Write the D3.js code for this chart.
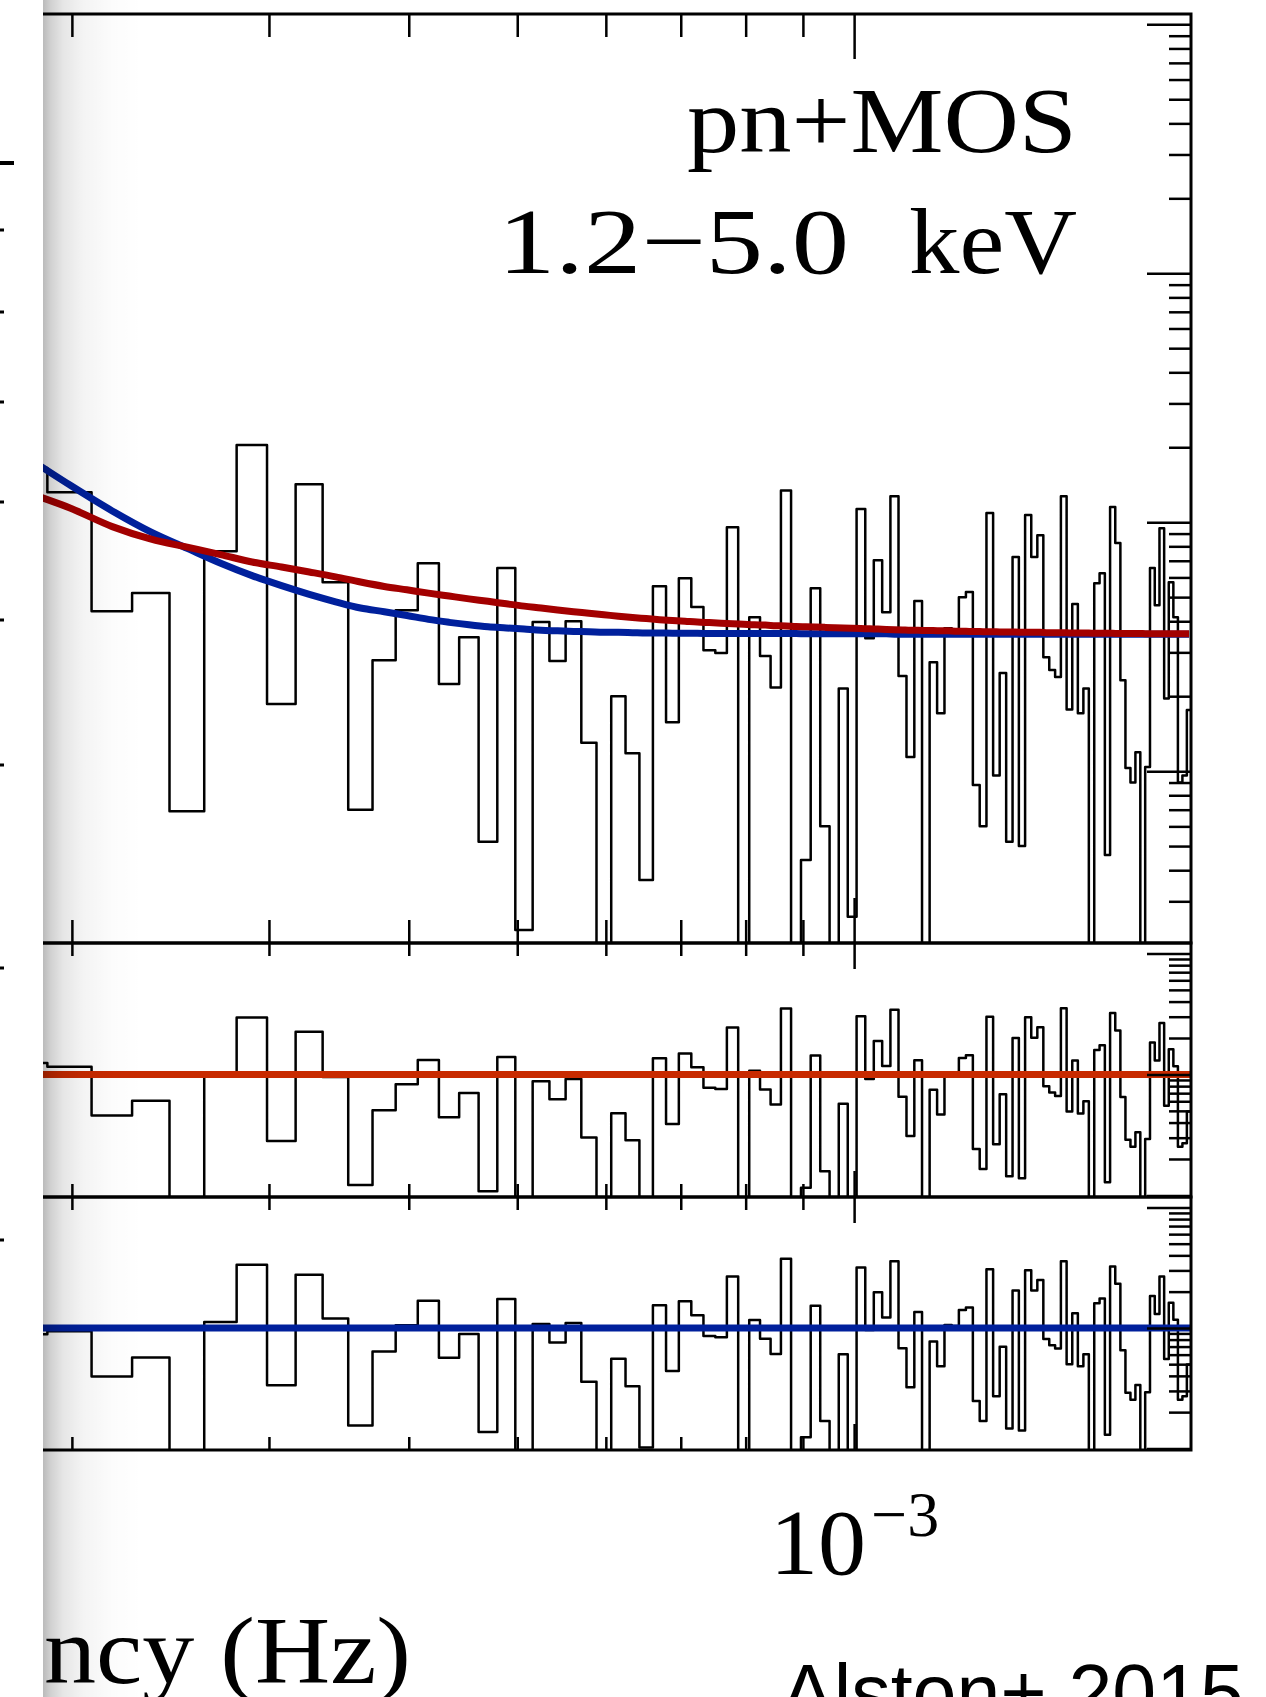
<!DOCTYPE html>
<html>
<head>
<meta charset="utf-8">
<script src="https://cdn.jsdelivr.net/npm/d3@7"></script>
<style>
  body { margin: 0; background: #fff; }
  svg { display: block; }
</style>
</head>
<body>
<div id="chart"></div>
<script>
// periodogram bins: bin n is centred on n*df, first array entry is n = 10
var df = 1.811e-5;
var firstBin = 10;

// data power per bin (values below ~0.2 fall under the plotted range)
var power = [16.5, 13.2, 4.39, 5.19, 0.69, 7.65, 20.4, 1.86, 14.2, 5.74,
  0.70, 2.79, 4.43, 6.84, 2.24, 3.45, 0.52, 6.54, 0.23, 3.97,
  2.77, 4.00, 1.30, 0.05, 2.00, 1.18, 0.365, 5.53, 1.57, 5.96,
  4.56, 3.06, 2.98, 9.55, 0.05, 4.15, 2.90, 2.17, 13.4, 0.05,
  0.44, 5.43, 0.60, 0.05, 2.15, 0.26, 11.3, 3.42, 7.03, 4.35,
  12.7, 2.41, 1.14, 4.82, 0.05, 2.74, 1.71, 3.75, 3.68, 5.00,
  5.24, 0.88, 0.60, 10.9, 0.96, 2.48, 0.52, 7.24, 0.50, 10.7,
  7.24, 8.87, 2.87, 2.55, 2.39, 12.7, 1.77, 4.69, 1.71, 2.15,
  0.05, 5.69, 6.24, 0.46, 11.5, 8.24, 2.32, 1.03, 0.90, 1.19,
  0.05, 1.04, 6.54, 4.64, 9.46, 1.96, 5.74, 4.15, 0.90, 0.96,
  1.76];

// power law + constant model (red), per bin
var modelRed = [13.3, 11.4, 9.60, 8.55, 7.94, 7.41, 6.92, 6.61, 6.31, 6.03,
  5.75, 5.52, 5.35, 5.19, 5.05, 4.92, 4.81, 4.70, 4.60, 4.52,
  4.44, 4.37, 4.31, 4.25, 4.19, 4.14, 4.10, 4.06, 4.03, 4.00,
  3.97, 3.95, 3.93, 3.91, 3.89, 3.87, 3.86, 3.84, 3.83, 3.81,
  3.80, 3.79, 3.78, 3.77, 3.76, 3.75, 3.74, 3.73, 3.72, 3.71,
  3.70, 3.69, 3.68, 3.68, 3.67, 3.67, 3.66, 3.66, 3.65, 3.65,
  3.64, 3.64, 3.63, 3.63, 3.63, 3.62, 3.62, 3.62, 3.61, 3.61,
  3.61, 3.61, 3.60, 3.60, 3.60, 3.60, 3.59, 3.59, 3.59, 3.59,
  3.58, 3.58, 3.58, 3.58, 3.58, 3.57, 3.57, 3.57, 3.57, 3.57,
  3.57, 3.56, 3.56, 3.56, 3.56, 3.56, 3.56, 3.56, 3.56, 3.56,
  3.56];

// bending model (blue), per bin
var modelBlue = [18.6, 14.1, 11.1, 9.12, 7.85, 6.84, 6.10, 5.56, 5.13, 4.79,
  4.52, 4.37, 4.22, 4.07, 3.96, 3.87, 3.80, 3.76, 3.72, 3.68,
  3.66, 3.64, 3.63, 3.61, 3.61, 3.60, 3.59, 3.59, 3.58, 3.58,
  3.58, 3.57, 3.57, 3.57, 3.57, 3.57, 3.57, 3.57, 3.57, 3.57,
  3.56, 3.56, 3.56, 3.56, 3.56, 3.56, 3.56, 3.56, 3.56, 3.56,
  3.55, 3.55, 3.55, 3.55, 3.55, 3.55, 3.55, 3.55, 3.55, 3.55,
  3.55, 3.55, 3.55, 3.55, 3.55, 3.55, 3.55, 3.55, 3.55, 3.55,
  3.55, 3.55, 3.55, 3.55, 3.55, 3.55, 3.55, 3.55, 3.55, 3.55,
  3.55, 3.55, 3.55, 3.55, 3.55, 3.55, 3.55, 3.55, 3.55, 3.55,
  3.55, 3.55, 3.55, 3.55, 3.55, 3.55, 3.55, 3.55, 3.55, 3.55,
  3.55];

var xLabelTicks = [1e-3];
var bandLabel = ["pn+MOS", "1.2\u22125.0", "keV"];
var xTitle = "Frequency (Hz)";
var credit = "Alston+ 2015";
// tick marks of the neighbouring (cropped) panel along the left edge
var edgeTicks = [163, 230, 312, 402, 502, 620, 765, 968, 1240];

var width = 1266, height = 1697;
var plotLeft = -265, plotRight = 1191;

var svg = d3.select("#chart").append("svg")
    .attr("width", width)
    .attr("height", height);

svg.append("rect").attr("width", width).attr("height", height).attr("fill", "#fff");

var x = d3.scaleLog().domain([1e-4, 2e-3]).range([plotLeft, plotRight]);

var bins = power.map(function(p, i) {
  var n = firstBin + i;
  return {lo: (n - 0.5) * df, hi: (n + 0.5) * df, mid: n * df,
          p: p, red: modelRed[i], blue: modelBlue[i]};
});

function isDecade(v) {
  var l = Math.log10(v);
  return Math.abs(l - Math.round(l)) < 1e-9;
}

var panels = [
  {top: 14, bottom: 943, domain: [0.204, 1100], xt: [23, 45],
   hist: function(b) { return b.p; },
   lines: [{v: function(b) { return b.blue; }, c: "#00209c"},
           {v: function(b) { return b.red; }, c: "#a30000"}]},
  {top: 943, bottom: 1197, domain: [0.097, 12.2], xt: [13, 26],
   hist: function(b) { return b.p / b.red; },
   flat: "#c82a00"},
  {top: 1197, bottom: 1450, domain: [0.097, 12.2], xt: [13, 26],
   hist: function(b) { return b.p / b.blue; },
   flat: "#00209c"}
];

var defs = svg.append("defs");

panels.forEach(function(pn, k) {
  var y = d3.scaleLog().domain(pn.domain).range([pn.bottom, pn.top]);

  defs.append("clipPath").attr("id", "clip" + k)
    .append("rect")
      .attr("x", plotLeft).attr("y", pn.top)
      .attr("width", plotRight - plotLeft).attr("height", pn.bottom - pn.top);

  var g = svg.append("g");
  var inner = g.append("g").attr("clip-path", "url(#clip" + k + ")");

  // histogram as steps
  var pts = [];
  bins.forEach(function(b) {
    pts.push([b.lo, pn.hist(b)]);
    pts.push([b.hi, pn.hist(b)]);
  });
  inner.append("path")
    .datum(pts)
    .attr("fill", "none")
    .attr("stroke", "#000")
    .attr("stroke-width", 2.5)
    .attr("stroke-linejoin", "round")
    .attr("d", d3.line()
      .x(function(d) { return x(d[0]); })
      .y(function(d) { return y(Math.max(d[1], 1e-3)); }));

  // model curves
  if (pn.lines) {
    pn.lines.forEach(function(ln) {
      inner.append("path")
        .datum(bins)
        .attr("fill", "none")
        .attr("stroke", ln.c)
        .attr("stroke-width", 7)
        .attr("d", d3.line()
          .curve(d3.curveMonotoneX)
          .x(function(d) { return x(d.mid); })
          .y(function(d) { return y(ln.v(d)); }));
    });
  }
  if (pn.flat) {
    inner.append("path")
      .datum(x.domain())
      .attr("fill", "none")
      .attr("stroke", pn.flat)
      .attr("stroke-width", 7)
      .attr("d", d3.line()
        .x(function(d) { return x(d); })
        .y(function() { return y(1); }));
  }

  // x ticks (inward on top and bottom edges)
  var xt = x.ticks().filter(function(t) { return t > x.domain()[0] && t < x.domain()[1]; });
  var xMinor = xt.filter(function(t) { return !isDecade(t); });
  var xMajor = xt.filter(isDecade);
  [[xMinor, pn.xt[0]], [xMajor, pn.xt[1]]].forEach(function(s) {
    g.append("g").attr("class", "tk")
      .attr("transform", "translate(0," + pn.top + ")")
      .call(d3.axisTop(x).tickValues(s[0]).tickSize(-s[1]).tickFormat(""));
    g.append("g").attr("class", "tk")
      .attr("transform", "translate(0," + pn.bottom + ")")
      .call(d3.axisBottom(x).tickValues(s[0]).tickSize(-s[1]).tickFormat(""));
  });

  // y ticks on the right edge
  var yt = y.ticks().filter(function(t) { return t >= pn.domain[0] && t <= pn.domain[1]; });
  [[yt.filter(function(t) { return !isDecade(t); }), 22], [yt.filter(isDecade), 44]].forEach(function(s) {
    g.append("g").attr("class", "tk")
      .attr("transform", "translate(" + plotRight + ",0)")
      .call(d3.axisRight(y).tickValues(s[0]).tickSize(-s[1]).tickFormat(""));
  });

  // frame
  g.append("path")
    .attr("fill", "none")
    .attr("stroke", "#000")
    .attr("stroke-width", 3)
    .attr("d", "M" + (plotLeft - 10) + "," + pn.top + "H" + plotRight +
               "V" + pn.bottom + "H" + (plotLeft - 10));
});

svg.selectAll(".tk .domain").remove();
svg.selectAll(".tk line").attr("stroke", "#000").attr("stroke-width", 2.5);

// text
var serif = "'Liberation Serif', 'Times New Roman', serif";

svg.append("text")
  .attr("x", 687).attr("y", 152)
  .attr("font-family", serif).attr("font-size", 94)
  .attr("textLength", 390).attr("lengthAdjust", "spacingAndGlyphs")
  .text(bandLabel[0]);
svg.append("text")
  .attr("x", 498).attr("y", 273)
  .attr("font-family", serif).attr("font-size", 94)
  .attr("textLength", 351).attr("lengthAdjust", "spacingAndGlyphs")
  .text(bandLabel[1]);
svg.append("text")
  .attr("x", 909).attr("y", 273)
  .attr("font-family", serif).attr("font-size", 94)
  .attr("textLength", 168).attr("lengthAdjust", "spacingAndGlyphs")
  .text(bandLabel[2]);

xLabelTicks.forEach(function(t) {
  var xp = x(t);
  var e = Math.round(Math.log10(t));
  svg.append("text")
    .attr("x", xp - 84).attr("y", 1574)
    .attr("font-family", serif).attr("font-size", 94)
    .attr("textLength", 96).attr("lengthAdjust", "spacingAndGlyphs")
    .text("10");
  svg.append("text")
    .attr("x", xp + 17).attr("y", 1536)
    .attr("font-family", serif).attr("font-size", 64)
    .attr("textLength", 68).attr("lengthAdjust", "spacingAndGlyphs")
    .text((e < 0 ? "\u2212" : "") + Math.abs(e));
});

// axis title: only its right end shows, the rest lies under the cropped edge
svg.append("text")
  .attr("x", 411 - 656).attr("y", 1683)
  .attr("font-family", serif).attr("font-size", 95)
  .attr("textLength", 656).attr("lengthAdjust", "spacingAndGlyphs")
  .text(xTitle);

svg.append("text")
  .attr("x", 781).attr("y", 1720)
  .attr("font-family", "'Liberation Sans', Arial, sans-serif").attr("font-size", 80)
  .attr("textLength", 463).attr("lengthAdjust", "spacingAndGlyphs")
  .text(credit);

// cropped left edge: white strip, neighbour ticks, page shadow
svg.append("rect").attr("x", 0).attr("y", 0).attr("width", 43).attr("height", height).attr("fill", "#fff");
svg.selectAll(".edgeTick")
  .data(edgeTicks)
  .enter().append("rect")
    .attr("class", "edgeTick")
    .attr("x", 0)
    .attr("y", function(d, i) { return d - (i === 0 ? 2 : 1.5); })
    .attr("width", function(d, i) { return i === 0 ? 14 : 4; })
    .attr("height", function(d, i) { return i === 0 ? 4 : 3; })
    .attr("fill", "#000");

var grad = defs.append("linearGradient").attr("id", "shade")
  .attr("x1", 0).attr("x2", 1).attr("y1", 0).attr("y2", 0);
[[0, 0.27], [0.08, 0.18], [0.2, 0.1], [0.4, 0.045], [0.7, 0.012], [1, 0]].forEach(function(s) {
  grad.append("stop").attr("offset", s[0]).attr("stop-color", "#000").attr("stop-opacity", s[1]);
});
svg.append("rect").attr("x", 43).attr("y", 0).attr("width", 100).attr("height", height)
  .attr("fill", "url(#shade)");
</script>
</body>
</html>
